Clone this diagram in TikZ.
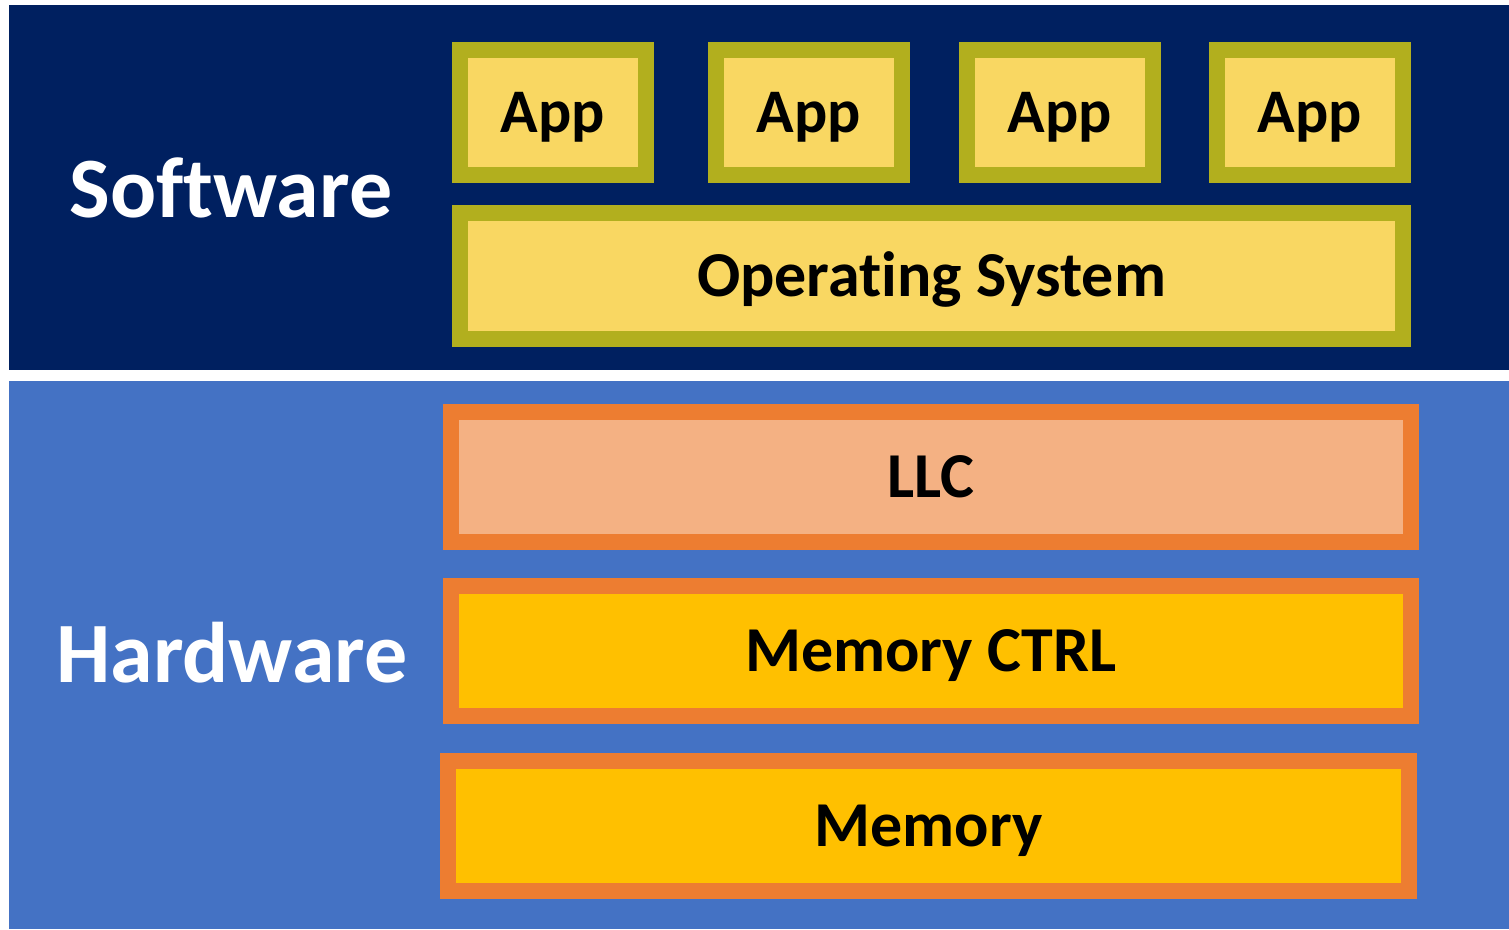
\documentclass[tikz,border=0pt]{standalone}
\usepackage{fontspec}
\setmainfont[Ligatures=NoCommon]{Carlito}
\definecolor{navy}{HTML}{002060}
\definecolor{hwblue}{HTML}{4472C4}
\definecolor{olive}{HTML}{B2AF1E}
\definecolor{lightyel}{HTML}{F9D762}
\definecolor{orng}{HTML}{ED7D31}
\definecolor{peach}{HTML}{F4B183}
\definecolor{gold}{HTML}{FFC000}
\begin{document}
\begin{tikzpicture}[x=1pt,y=-1pt,
  box/.style={draw, line width=16pt, rectangle, inner sep=0pt, outer sep=0pt,
    font=\fontsize{64}{64}\selectfont\bfseries, text height=41pt, text depth=0pt},
  swbox/.style={box, draw=olive, fill=lightyel},
  hwbox/.style={box, draw=orng, fill=gold},
  appbox/.style={swbox, font=\fontsize{62}{62}\selectfont\bfseries, text height=40pt, minimum width=186pt, minimum height=125pt},
  layer/.style={font=\fontsize{86}{86}\selectfont\bfseries, text=white, inner sep=0pt, text height=55pt, text depth=0pt}]
\useasboundingbox (0,0) rectangle (1509,929);
\fill[white] (0,0) rectangle (1509,929);
\fill[navy] (9,5) rectangle (1509,370);
\fill[hwblue] (9,381) rectangle (1509,929);
\node[layer] (sw) at (231,190) {Software};
\node[layer] (hw) at (232,655) {Hardware};
\node[appbox] (app1) at (553,112.5) {App};
\node[appbox] (app2) at (809,112.5) {App};
\node[appbox] (app3) at (1060,112.5) {App};
\node[appbox] (app4) at (1310,112.5) {App};
\node[swbox, minimum width=943pt, minimum height=126pt] (os) at (931.5,276) {Operating System};
\node[hwbox, fill=peach, minimum width=960pt, minimum height=130pt] (llc) at (931,477) {LLC};
\node[hwbox, minimum width=960pt, minimum height=130pt] (ctrl) at (931,651) {Memory CTRL};
\node[hwbox, minimum width=961pt, minimum height=130pt] (mem) at (928.5,826) {Memory};
\end{tikzpicture}
\end{document}
